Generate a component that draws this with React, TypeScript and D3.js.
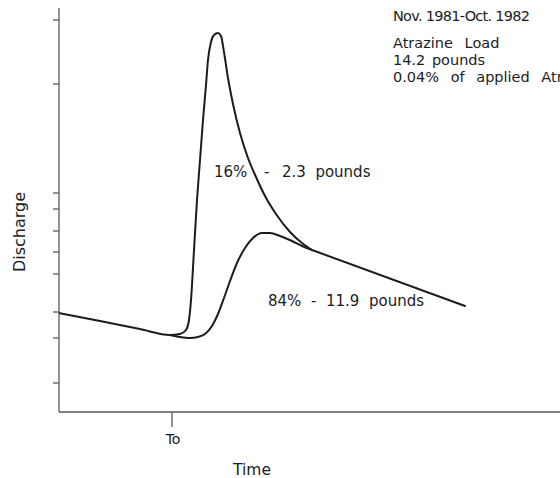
import React from "react";
import * as d3 from "d3";

// Schematic hydrograph (arbitrary units: time 0-100, discharge 0-100)
const recession: [number, number][] = [
  [0, 24.75], [8.2, 22.75], [16.2, 20.75], [22.2, 19.25],
];
const quickflow: [number, number][] = [
  [24.2, 19.5], [25.4, 20.5], [26.0, 23], [26.4, 28], [27.0, 40.5], [27.6, 53],
  [28.2, 63], [28.8, 73], [29.4, 81.75], [29.8, 88], [30.4, 92.5], [31.0, 94.25],
  [31.8, 94.75], [32.4, 94], [33.0, 90], [33.8, 83.5], [34.8, 77], [36.2, 69.75],
  [37.8, 63.5], [39.4, 58.75], [41.2, 54], [43.4, 49.5], [46.2, 45], [48.6, 42.25],
  [50.6, 40.5],
];
const baseflow: [number, number][] = [
  [22.2, 19.25], [24.2, 18.75], [26.2, 18.5], [27.8, 18.75], [29.2, 19.5], [30.6, 21.5],
  [31.8, 24.5], [33.0, 28.5], [34.2, 32.75], [35.6, 37.25], [37.2, 41], [38.8, 43.5],
  [40.6, 44.75], [42.2, 44.75], [44.2, 44], [46.6, 42.75], [48.6, 41.5], [50.6, 40.5],
];
const tail: [number, number][] = [
  [50.6, 40.5], [81.2, 26.5],
];
const yTicks = [98, 82, 54.75, 50.75, 45.25, 40, 34.5, 25, 18.5, 7.25];
const toTime = 22.6;
const headerLine = "Nov. 1981-Oct. 1982";
const noteLines = ["Atrazine Load", "14.2 pounds", "0.04% of applied Atrazine"];
const quickLabel = ["16%", "-", "2.3  pounds"];
const baseLabel = ["84%", "-", "11.9  pounds"];

export default function App() {
  const W = 560, H = 478;
  const x = d3.scaleLinear().domain([0, 100]).range([59, 559]);
  const y = d3.scaleLinear().domain([0, 100]).range([412, 12]);
  const line = d3.line<[number, number]>()
    .x(d => x(d[0]))
    .y(d => y(d[1]))
    .curve(d3.curveMonotoneX);
  const straight = d3.line<[number, number]>()
    .x(d => x(d[0]))
    .y(d => y(d[1]));
  const upper = [...recession, ...quickflow];
  const font = "'DejaVu Sans', sans-serif";
  const ink = "#1c1c1c";
  const axis = "#5a5a5a";
  const fs = 14.5;

  return (
    <svg width={W} height={H} style={{ position: "absolute", left: 0, top: 0, background: "#fff" }}
      fontFamily={font}>
      <rect x={0} y={0} width={W} height={H} fill="#fff" />
      {/* axes */}
      <line x1={x(0)} x2={x(0)} y1={y(0)} y2={y(101)} stroke={axis} strokeWidth={1.3} />
      <line x1={x(0)} x2={x(100.2)} y1={y(0)} y2={y(0)} stroke={axis} strokeWidth={1.3} />
      {yTicks.map((t, i) => (
        <line key={i} x1={x(0) - 6} x2={x(0)} y1={y(t)} y2={y(t)} stroke={axis} strokeWidth={1.3} />
      ))}
      <line x1={x(toTime)} x2={x(toTime)} y1={y(0)} y2={y(0) + 15} stroke={axis} strokeWidth={1.3} />
      <text x={x(toTime) + 1} y={444} fontSize={14} fill={ink} textAnchor="middle">To</text>
      <text x={252} y={475} fontSize={15.5} fill={ink} textAnchor="middle">Time</text>
      <text transform="translate(25,232) rotate(-90)" fontSize={16} fill={ink} textAnchor="middle">Discharge</text>

      {/* curves */}
      <path d={line(upper) || ""} fill="none" stroke={ink} strokeWidth={2} strokeLinejoin="round" />
      <path d={line(baseflow) || ""} fill="none" stroke={ink} strokeWidth={2} strokeLinejoin="round" />
      <path d={straight(tail) || ""} fill="none" stroke={ink} strokeWidth={2} strokeLinecap="round" />

      {/* labels */}
      <text x={214} y={177} fontSize={15} fill={ink}>{quickLabel[0]}</text>
      <text x={264} y={177} fontSize={15} fill={ink}>{quickLabel[1]}</text>
      <text x={282} y={177} fontSize={15} fill={ink} style={{ whiteSpace: "pre" }}>{quickLabel[2]}</text>
      <text x={268} y={306} fontSize={15} fill={ink}>{baseLabel[0]}</text>
      <text x={311} y={306} fontSize={15} fill={ink}>{baseLabel[1]}</text>
      <text x={326} y={306} fontSize={15} fill={ink} style={{ whiteSpace: "pre" }}>{baseLabel[2]}</text>

      <text x={393} y={21} fontSize={fs} fill={ink} textLength={137} lengthAdjust="spacing">{headerLine}</text>
      {noteLines.map((s, i) => (
        <text key={i} x={393} y={48 + i * 17} fontSize={fs} fill={ink}
          style={{ wordSpacing: i === 1 ? "2px" : "7px" }}>{s}</text>
      ))}
    </svg>
  );
}
